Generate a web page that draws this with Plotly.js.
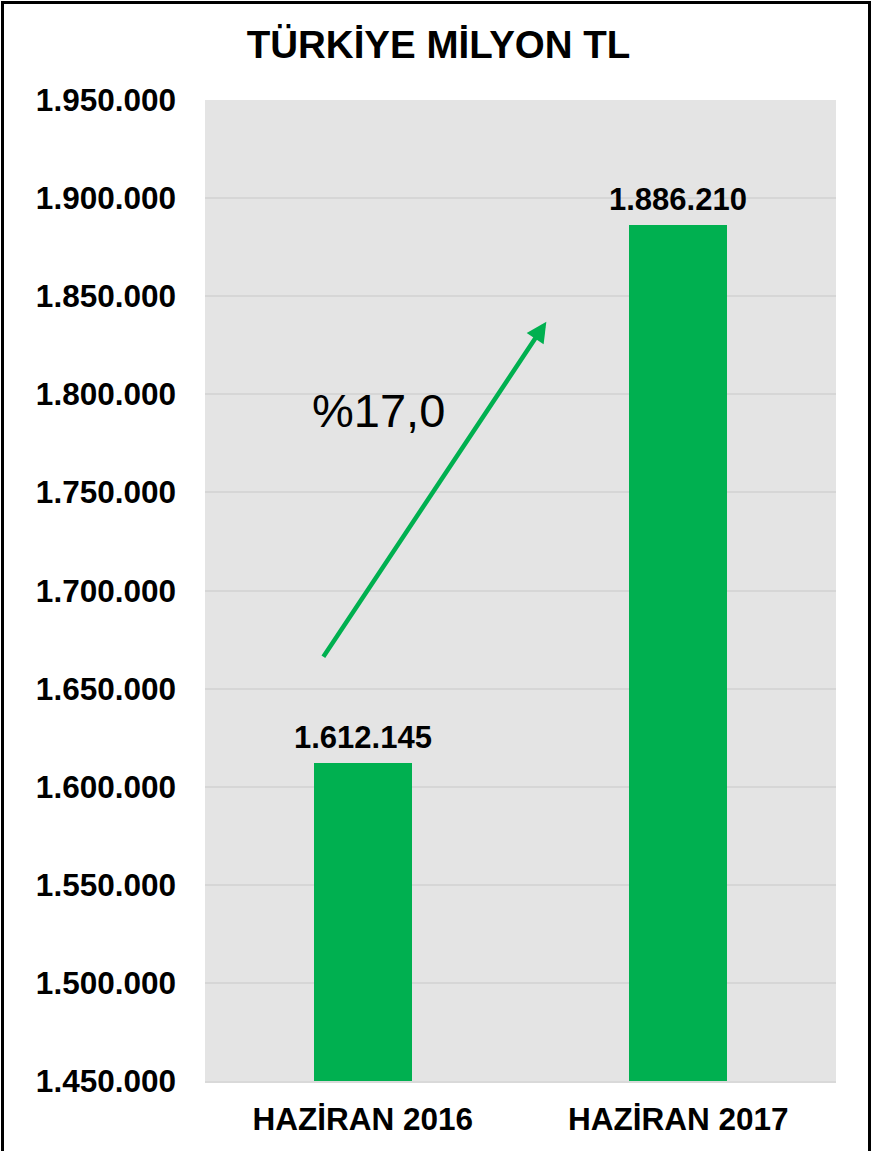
<!DOCTYPE html>
<html>
<head>
<meta charset="utf-8">
<script src="https://cdn.plot.ly/plotly-3.0.1.min.js"></script>
<style>
html,body{margin:0;padding:0;background:#fff;overflow:hidden;}
#frame{position:absolute;left:1px;top:1px;width:864px;height:1200px;border:3px solid #000;box-sizing:content-box;pointer-events:none;z-index:5;}
#chart{position:absolute;left:0;top:0;width:877px;height:1151px;}
</style>
</head>
<body>
<div id="chart"></div>
<div id="frame"></div>
<script>
const categories = ["HAZİRAN 2016", "HAZİRAN 2017"];
const values = [1612145, 1886210];
const valueLabels = ["1.612.145", "1.886.210"];
const tickValues = [1450000, 1500000, 1550000, 1600000, 1650000, 1700000, 1750000, 1800000, 1850000, 1900000, 1950000];
const tickLabels = ["1.450.000", "1.500.000", "1.550.000", "1.600.000", "1.650.000", "1.700.000", "1.750.000", "1.800.000", "1.850.000", "1.900.000", "1.950.000"];
const changeLabel = "%17,0";

const green = "#00b050";
const font = "Liberation Sans, Arial, sans-serif";
const positions = categories.map((c, i) => i);
const trace = {
  type: "bar",
  x: positions,
  y: values,
  width: 0.31,
  marker: {color: green},
  hoverinfo: "none"
};

const labelAnnotations = valueLabels.map((t, i) => ({
  x: positions[i], y: values[i], xref: "x", yref: "y", text: "<b>" + t + "</b>",
  showarrow: false, yanchor: "bottom", yshift: 6,
  font: {family: font, size: 31, color: "#000"}
}));

const layout = {
  width: 877, height: 1151,
  margin: {l: 205, r: 41, t: 100, b: 70},
  paper_bgcolor: "#fff",
  plot_bgcolor: "#e4e4e4",
  showlegend: false,
  title: {text: "<b>TÜRKİYE MİLYON TL</b>", x: 0.5, xanchor: "center", y: 1 - 45/1151, yanchor: "middle",
          font: {family: font, size: 38.5, color: "#000"}},
  xaxis: {
    range: [-0.5, 1.5],
    tickvals: positions, ticktext: categories,
    showgrid: false, zeroline: false, showline: true, linecolor: "#d9d9d9", linewidth: 2,
    ticks: "", ticklabelstandoff: 9,
    tickfont: {family: font, size: 31.5, color: "#000", weight: "bold"}
  },
  yaxis: {
    range: [1450000, 1950000],
    tickvals: tickValues, ticktext: tickLabels,
    showgrid: true, gridcolor: "#d6d6d6", gridwidth: 2,
    zeroline: false, showline: false, ticks: "", ticklabelstandoff: 28,
    tickfont: {family: font, size: 31.5, color: "#000", weight: "bold"}
  },
  bargap: 0,
  annotations: labelAnnotations.concat([
    {x: 0.582, y: 1837000, xref: "x", yref: "y", ax: -0.128, ay: 1665500, axref: "x", ayref: "y",
     showarrow: true, arrowhead: 2, arrowsize: 0.9, arrowwidth: 4.5, arrowcolor: green, text: ""},
    {x: 0.05, y: 1792000, xref: "x", yref: "y", text: changeLabel, showarrow: false,
     font: {family: font, size: 47, color: "#000"}}
  ])
};

Plotly.newPlot("chart", [trace], layout, {displayModeBar: false, staticPlot: true});
</script>
</body>
</html>
